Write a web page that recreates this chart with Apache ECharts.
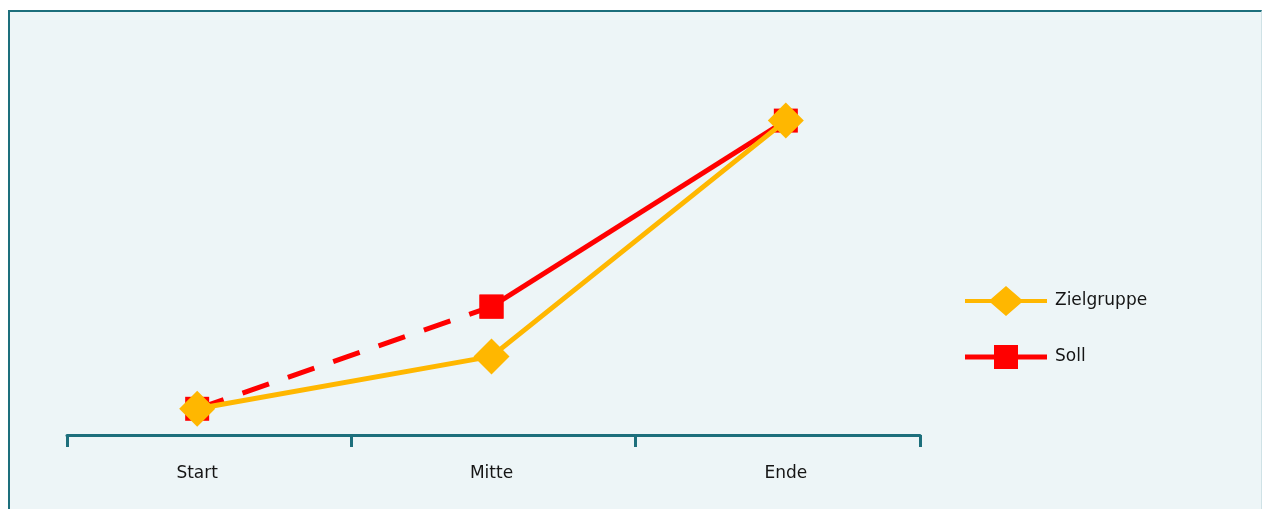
<!DOCTYPE html>
<html>
<head>
<meta charset="utf-8">
<script src="https://cdn.jsdelivr.net/npm/echarts@6/dist/echarts.min.js"></script>
<style>
  html, body { margin: 0; padding: 0; background: #ffffff; }
  #frame {
    position: absolute; left: 8px; top: 10px; width: 1251px; height: 510px;
    background: #edf5f7;
    border-left: 2px solid #1d6f7c; border-top: 2px solid #1d6f7c;
    border-right: 1px solid #cfe2e6;
  }
  #chart { position: absolute; left: -10px; top: -12px; width: 1262px; height: 509px; }
</style>
</head>
<body>
<div id="frame"><div id="chart"></div></div>
<script>
// Phases along the x axis
const categories = ['Start', 'Mitte', 'Ende'];
// Actual progress of the target group
const zielgruppe = [1, 3, 12];
// Planned values: dashed up to the midpoint, solid afterwards
const sollPlanned = [1, 4.9, null];
const sollFixed = [null, 4.9, 12];

const YELLOW = '#ffb700';
const RED = '#ff0000';
const TEAL = '#1d6f7c';
const font = 'DejaVu Sans';

// Legend glyphs: a thick line with the series marker in its middle
const diamondIcon = 'path://M0,13 L26,13 L41,0 L56,13 L82,13 L82,17 L56,17 L41,30 L26,17 L0,17 Z';
const squareIcon = 'path://M0,0 L0.01,0 L0.01,0.01 Z M0,30 L0.01,30 L0.01,29.99 Z ' +
  'M0,12.5 L29,12.5 L29,3 L53,3 L53,12.5 L82,12.5 L82,17.5 L53,17.5 L53,27 L29,27 L29,17.5 L0,17.5 Z';

const chart = echarts.init(document.getElementById('chart'));
chart.setOption({
  animation: false,
  backgroundColor: 'transparent',
  grid: [
    // axis line with its ticks
    { left: 67, right: 342, top: 42, bottom: 74 },
    // plotting area for the series and category labels
    { left: 50, right: 329, top: 42, bottom: 74 }
  ],
  legend: {
    orient: 'vertical',
    left: 960, top: 281,
    itemWidth: 82, itemHeight: 30, itemGap: 26,
    data: [
      { name: 'Zielgruppe', icon: diamondIcon },
      { name: 'Soll', icon: squareIcon }
    ],
    textStyle: { fontFamily: font, fontSize: 17, color: '#151515', padding: [0, 0, 0, 3] }
  },
  xAxis: [
    {
      gridIndex: 0,
      type: 'category',
      data: categories,
      boundaryGap: true,
      axisLine: { lineStyle: { color: TEAL, width: 3 } },
      axisTick: { show: true, length: 12, lineStyle: { color: TEAL, width: 3 } },
      axisLabel: { show: false }
    },
    {
      gridIndex: 1,
      type: 'category',
      data: categories,
      boundaryGap: true,
      axisLine: { show: false },
      axisTick: { show: false },
      axisLabel: { fontFamily: font, fontSize: 17, color: '#151515', margin: 30 }
    }
  ],
  yAxis: [
    { gridIndex: 0, type: 'value', min: 0, max: 15, show: false },
    { gridIndex: 1, type: 'value', min: 0, max: 15, show: false }
  ],
  series: [
    {
      name: 'Soll', type: 'line', data: sollPlanned,
      xAxisIndex: 1, yAxisIndex: 1,
      symbol: 'rect', symbolSize: 24,
      itemStyle: { color: RED },
      lineStyle: { color: RED, width: 5, type: [28, 20] },
      z: 2
    },
    {
      name: 'Soll', type: 'line', data: sollFixed,
      xAxisIndex: 1, yAxisIndex: 1,
      symbol: 'rect', symbolSize: 24,
      itemStyle: { color: RED },
      lineStyle: { color: RED, width: 5 },
      z: 2
    },
    {
      name: 'Zielgruppe', type: 'line', data: zielgruppe,
      xAxisIndex: 1, yAxisIndex: 1,
      symbol: 'diamond', symbolSize: 36,
      itemStyle: { color: YELLOW },
      lineStyle: { color: YELLOW, width: 5 },
      z: 3
    }
  ]
});
</script>
</body>
</html>
